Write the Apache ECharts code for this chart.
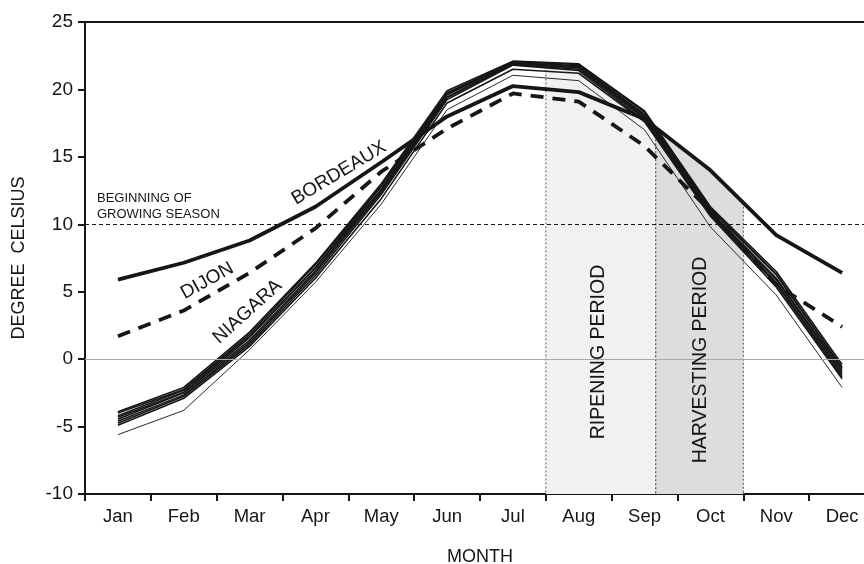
<!DOCTYPE html>
<html>
<head>
<meta charset="utf-8">
<script src="https://cdn.jsdelivr.net/npm/echarts@6/dist/echarts.min.js"></script>
<style>html,body{margin:0;padding:0;background:#fff}#c{width:864px;height:564px}</style>
</head>
<body>
<div id="c"></div>
<script>
// ---------- data ----------
const months = ['Jan','Feb','Mar','Apr','May','Jun','Jul','Aug','Sep','Oct','Nov','Dec'];
const bordeaux = [5.9, 7.15, 8.8, 11.3, 14.6, 18.0, 20.25, 19.8, 17.8, 14.0, 9.2, 6.4];
const dijon    = [1.7, 3.6, 6.4, 9.7, 13.9, 17.1, 19.7, 19.1, 15.8, 11.0, 5.5, 2.4];
const niagara1 = [-3.9, -2.1, 2.0, 7.1, 13.0, 19.9, 22.1, 21.9, 18.4, 11.3, 6.5, -0.4];
const niagara2 = [-4.0, -2.25, 1.85, 7.0, 12.85, 19.75, 22.05, 21.85, 18.3, 11.2, 6.3, -0.6];
const niagara3 = [-4.2, -2.3, 1.7, 6.8, 12.8, 19.7, 22.0, 21.75, 18.15, 11.1, 6.25, -0.7];
const niagara4 = [-4.3, -2.45, 1.6, 6.75, 12.6, 19.6, 21.95, 21.7, 18.05, 10.95, 6.0, -0.85];
const niagara5 = [-4.45, -2.5, 1.4, 6.55, 12.5, 19.45, 21.9, 21.6, 17.95, 10.9, 5.9, -1.0];
const niagara6 = [-4.6, -2.65, 1.25, 6.4, 12.35, 19.4, 21.85, 21.5, 17.85, 10.8, 5.7, -1.15];
const niagara7 = [-4.75, -2.75, 1.1, 6.2, 12.2, 19.25, 21.8, 21.4, 17.7, 10.7, 5.55, -1.3];
const niagara8 = [-4.9, -2.9, 0.95, 6.0, 11.9, 19.0, 21.5, 21.2, 17.6, 10.6, 5.35, -1.45];
const niagaraLow = [-5.6, -3.8, 0.7, 5.7, 11.5, 18.5, 21.05, 20.65, 17.0, 9.8, 4.75, -2.1];
const yMin = -10, yMax = 25, yStep = 5;
const growingSeason = 10;
// periods in month units (0 = Jan 1, 12 = Dec 31)
const ripeningPeriod = [7.0, 8.67];
const harvestingPeriod = [8.67, 10.0];

// ---------- helpers ----------
const niagaraSet = [niagara1, niagara2, niagara3, niagara4, niagara5, niagara6, niagara7, niagara8];
const allLines = [bordeaux, dijon, ...niagaraSet, niagaraLow];
function valueAt(arr, t) {
  const p = t - 0.5;
  let i = Math.floor(p);
  if (i < 0) i = 0;
  if (i > arr.length - 2) i = arr.length - 2;
  const f = p - i;
  return arr[i] + (arr[i + 1] - arr[i]) * f;
}
function envelope(t) { return Math.max(...allLines.map(a => valueAt(a, t))); }

const FONT = 'Liberation Sans, Arial, Helvetica, sans-serif';
const INK = '#161616';
const bandColors = ['#f1f1f1', '#dcdddf'];

const chart = echarts.init(document.getElementById('c'), null, {renderer: 'canvas'});

const series = [];
// reference lines
series.push({
  type: 'line', xAxisIndex: 0, yAxisIndex: 0, data: [], z: 1, silent: true,
  markLine: {
    silent: true, symbol: 'none', label: {show: false}, animation: false,
    data: [
      {yAxis: growingSeason, lineStyle: {color: INK, width: 1, type: [4, 3]}},
      {yAxis: 0, lineStyle: {color: '#a8a8a8', width: 1, type: 'solid'}}
    ]
  }
});
// bands
series.push({
  type: 'custom', xAxisIndex: 1, yAxisIndex: 0, z: 2, silent: true,
  data: [[ripeningPeriod[0], ripeningPeriod[1], 0], [harvestingPeriod[0], harvestingPeriod[1], 1]],
  renderItem: function (params, api) {
    const s = api.value(0), e = api.value(1), idx = api.value(2);
    const pts = [];
    const n = 80;
    for (let k = 0; k <= n; k++) {
      const t = s + (e - s) * k / n;
      pts.push(api.coord([t, envelope(t)]));
    }
    pts.push(api.coord([e, yMin]));
    pts.push(api.coord([s, yMin]));
    const sTop = api.coord([s, envelope(s)]), sBot = api.coord([s, yMin]);
    const eTop = api.coord([e, envelope(e)]), eBot = api.coord([e, yMin]);
    return {
      type: 'group',
      children: [
        {type: 'polygon', shape: {points: pts}, style: {fill: bandColors[idx]}},
        {type: 'line', shape: {x1: sTop[0], y1: sTop[1], x2: sBot[0], y2: sBot[1]},
          style: {stroke: '#555', lineWidth: 1, lineDash: [2, 2]}},
        {type: 'line', shape: {x1: eTop[0], y1: eTop[1], x2: eBot[0], y2: eBot[1]},
          style: {stroke: '#555', lineWidth: 1, lineDash: [2, 2]}}
      ]
    };
  }
});
// Niagara lines
niagaraSet.forEach((arr, i) => {
  series.push({
    type: 'line', name: 'Niagara ' + (i + 1), data: arr, z: 3, symbol: 'none', silent: true,
    lineStyle: {color: INK, width: 1.6}
  });
});
series.push({
  type: 'line', name: 'Niagara low', data: niagaraLow, z: 3, symbol: 'none', silent: true,
  lineStyle: {color: '#2a2a2a', width: 1}
});
series.push({
  type: 'line', name: 'Dijon', data: dijon, z: 4, symbol: 'none', silent: true,
  lineStyle: {color: INK, width: 3.8, type: [13, 9], cap: 'butt'}
});
series.push({
  type: 'line', name: 'Bordeaux', data: bordeaux, z: 4, symbol: 'none', silent: true,
  lineStyle: {color: INK, width: 3.8}
});

// annotations (layout only)
const annotations = [
  {text: 'BORDEAUX', at: [3.857, 13.8], rotate: 31, size: 19, align: 'center'},
  {text: 'DIJON', at: [1.857, 5.8], rotate: 29, size: 19, align: 'center'},
  {text: 'NIAGARA', at: [2.468, 3.52], rotate: 42, size: 19, align: 'center'},
  {text: 'RIPENING PERIOD', at: [7.806, 0.53], rotate: 90, size: 19.5, align: 'center'},
  {text: 'HARVESTING PERIOD', at: [9.355, -0.06], rotate: 90, size: 19.5, align: 'center'},
  {text: 'BEGINNING OF\nGROWING SEASON', at: [0.182, 11.36], rotate: 0, size: 13, align: 'left', lh: 16}
];
series.push({
  type: 'scatter', xAxisIndex: 1, yAxisIndex: 0, z: 5, silent: true, symbolSize: 0,
  itemStyle: {opacity: 1, color: 'rgba(0,0,0,0)'},
  data: annotations.map(a => ({
    value: a.at,
    label: {
      show: true, position: 'inside', formatter: a.text, rotate: a.rotate,
      align: a.align, verticalAlign: 'middle', fontSize: a.size, fontFamily: FONT,
      color: INK, opacity: 1, lineHeight: a.lh || a.size * 1.2
    }
  }))
});

const option = {
  animation: false,
  backgroundColor: '#fff',
  grid: {left: 85, top: 22, width: 790, height: 472, show: true, borderColor: INK, borderWidth: 2,
         backgroundColor: 'transparent', containLabel: false, outerBoundsMode: 'none'},
  xAxis: [
    {
      type: 'category', data: months, boundaryGap: true,
      name: 'MONTH', nameLocation: 'middle', nameGap: 54,
      nameTextStyle: {fontSize: 18, fontFamily: FONT, color: INK},
      axisLine: {onZero: false, lineStyle: {color: INK, width: 2}},
      axisTick: {show: true, length: 7, inside: false, lineStyle: {color: INK, width: 2}},
      axisLabel: {fontSize: 18.5, fontFamily: FONT, color: INK, margin: 13},
      splitLine: {show: false}
    },
    {type: 'value', min: 0, max: 12, show: false, splitLine: {show: false}}
  ],
  yAxis: {
    type: 'value', min: yMin, max: yMax, interval: yStep,
    name: 'DEGREE  CELSIUS', nameLocation: 'middle', nameGap: 57, nameRotate: 90,
    nameTextStyle: {fontSize: 18, fontFamily: FONT, color: INK},
    axisLine: {show: true, onZero: false, lineStyle: {color: INK, width: 2}},
    axisTick: {show: true, length: 7, inside: false, lineStyle: {color: INK, width: 2}},
    axisLabel: {fontSize: 19, fontFamily: FONT, color: INK, margin: 12},
    splitLine: {show: false}
  },
  series: series
};
chart.setOption(option);
</script>
</body>
</html>
